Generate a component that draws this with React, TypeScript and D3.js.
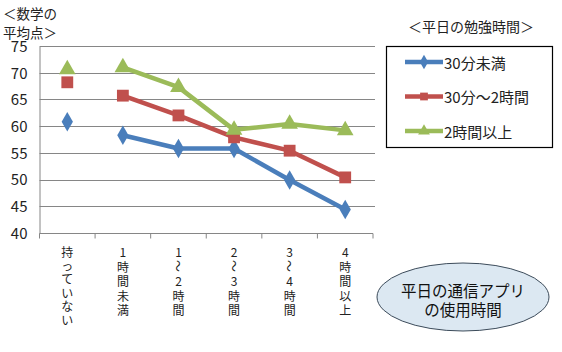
import React, { useEffect, useRef } from 'react';
import * as d3 from 'd3';

const categories = ['持っていない', '1時間未満', '1～2時間', '2～3時間', '3～4時間', '4時間以上'];
// each x label is written top-to-bottom, one glyph per line
const tickLabels = [
    ['持', 'っ', 'て', 'い', 'な', 'い'],
    ['1', '時', '間', '未', '満'],
    ['1', '～', '2', '時', '間'],
    ['2', '～', '3', '時', '間'],
    ['3', '～', '4', '時', '間'],
    ['4', '時', '間', '以', '上'],
];
const seriesNames = ['30分未満', '30分～2時間', '2時間以上'];
const lowStudy = [60.9, 58.4, 55.9, 55.9, 50.0, 44.5];
const midStudy = [68.3, 65.8, 62.1, 58.0, 55.5, 50.5];
const highStudy = [70.7, 71.1, 67.4, 59.4, 60.5, 59.3];
const yTicks = [40, 45, 50, 55, 60, 65, 70, 75];

const colors = ['#4a7ebb', '#c0504d', '#9bbb59'];
const shapes = [d3.symbolDiamond, d3.symbolSquare, d3.symbolTriangle];
const font = '"Noto Sans CJK JP", "Noto Sans", sans-serif';

export default function App() {
    const ref = useRef<SVGSVGElement>(null);

    useEffect(() => {
        document.body.style.margin = '0';
        const svg = d3.select(ref.current);
        svg.selectAll('*').remove();

        const width = 562;
        const height = 352;
        const margins = { l: 39.5, r: 189, t: 46.5, b: 118.5 };
        const plotwidth = width - margins.l - margins.r;
        const plotheight = height - margins.t - margins.b;

        const xScale = d3.scaleBand().domain(categories).range([0, plotwidth]);
        const yScale = d3.scaleLinear().domain([40, 75]).range([plotheight, 0]);
        const cx = (c: string) => (xScale(c) as number) + xScale.bandwidth() / 2;

        const g = svg.append('g').attr('transform', `translate(${margins.l},${margins.t})`);

        // gridlines
        g.selectAll('.grid').data(yTicks.slice(1)).join('line')
            .attr('class', 'grid')
            .attr('x1', 0).attr('x2', plotwidth + 2)
            .attr('y1', d => Math.round(yScale(d))).attr('y2', d => Math.round(yScale(d)))
            .attr('stroke', '#868686').attr('stroke-width', 1);

        // y axis
        const yAxis = d3.axisLeft(yScale).tickValues(yTicks).tickSize(0).tickPadding(12);
        const ya = g.append('g').call(yAxis);
        ya.select('.domain').attr('stroke', '#868686');
        ya.selectAll('text').attr('font-family', font).attr('font-size', 15).attr('fill', '#222');

        // x axis with ticks between categories
        const xa = g.append('g').attr('transform', `translate(0,${plotheight})`);
        xa.append('line').attr('x1', 0).attr('x2', plotwidth).attr('stroke', '#868686');
        const bounds = categories.map(c => xScale(c) as number).concat([plotwidth]);
        xa.selectAll('.tick').data(bounds).join('line')
            .attr('class', 'tick')
            .attr('x1', d => d).attr('x2', d => d)
            .attr('y1', 0).attr('y2', 5)
            .attr('stroke', '#868686');

        const labels = xa.selectAll('.xlabel').data(categories).join('g')
            .attr('class', 'xlabel')
            .attr('transform', d => `translate(${cx(d)},0)`);
        labels.selectAll('text').data((d, i) => tickLabels[i].map((ch, j) => ({ ch, j, first: i === 0 }))).join('text')
            .attr('font-family', font)
            .attr('font-size', 12)
            .attr('fill', '#222')
            .attr('text-anchor', 'middle')
            .attr('dominant-baseline', 'central')
            .attr('transform', d => {
                const y = 18 + d.j * (d.first ? 13.5 : 14.5);
                return d.ch === '～' ? `translate(0,${y}) rotate(90)` : `translate(0,${y})`;
            })
            .text(d => d.ch);

        // series
        const allSeries = [lowStudy, midStudy, highStudy];
        const line = d3.line<number>()
            .defined((d, i) => i > 0)
            .x((d, i) => cx(categories[i]))
            .y(d => yScale(d));

        allSeries.forEach((values, s) => {
            g.append('path')
                .attr('d', line(values))
                .attr('fill', 'none')
                .attr('stroke', colors[s])
                .attr('stroke-width', 4.5)
                .attr('stroke-linejoin', 'round');
            const sym = d3.symbol().type(shapes[s]).size(s === 0 ? 110 : s === 1 ? 140 : 120);
            g.selectAll(`.m${s}`).data(values).join('path')
                .attr('class', `m${s}`)
                .attr('d', sym)
                .attr('transform', (d, i) => `translate(${cx(categories[i])},${yScale(d)})`)
                .attr('fill', colors[s]);
        });

        // y title
        svg.append('text').attr('x', 3).attr('y', 19)
            .attr('font-family', font).attr('font-size', 13.5).attr('fill', '#222')
            .text('＜数学の');
        svg.append('text').attr('x', 3).attr('y', 37.5)
            .attr('font-family', font).attr('font-size', 13.5).attr('fill', '#222')
            .text('平均点＞');

        // legend
        svg.append('text')
            .attr('x', 471).attr('y', 32)
            .attr('text-anchor', 'middle')
            .attr('font-family', font).attr('font-size', 14).attr('fill', '#222')
            .text('＜平日の勉強時間＞');

        svg.append('rect')
            .attr('x', 386.5).attr('y', 46.5).attr('width', 166).attr('height', 101)
            .attr('fill', 'white').attr('stroke', '#000').attr('stroke-width', 1.2);

        const legend = svg.selectAll('.legend').data(seriesNames).join('g')
            .attr('class', 'legend')
            .attr('transform', (d, i) => `translate(405,${62 + i * 34.5})`);
        legend.append('line')
            .attr('x1', 0).attr('x2', 38)
            .attr('stroke', (d, i) => colors[i]).attr('stroke-width', 4.5);
        legend.append('path')
            .attr('d', (d, i) => d3.symbol().type(shapes[i]).size(60)())
            .attr('transform', 'translate(19,0)')
            .attr('fill', (d, i) => colors[i]);
        legend.append('text')
            .attr('x', 39).attr('y', 0)
            .attr('dominant-baseline', 'central')
            .attr('font-family', font).attr('font-size', 15).attr('fill', '#222')
            .text(d => d);

        // x title in ellipse
        svg.append('ellipse')
            .attr('cx', 463).attr('cy', 297).attr('rx', 86).attr('ry', 34)
            .attr('fill', '#dce8f2').attr('stroke', '#3c4b5a').attr('stroke-width', 1);
        svg.append('text')
            .attr('x', 463).attr('y', 297)
            .attr('text-anchor', 'middle')
            .attr('font-family', font).attr('font-size', 15.5).attr('fill', '#111')
            .text('平日の通信アプリ');
        svg.append('text')
            .attr('x', 463).attr('y', 316)
            .attr('text-anchor', 'middle')
            .attr('font-family', font).attr('font-size', 15.5).attr('fill', '#111')
            .text('の使用時間');
    }, []);

    return <svg ref={ref} width={562} height={352} style={{ display: 'block', background: 'white' }} />;
}
